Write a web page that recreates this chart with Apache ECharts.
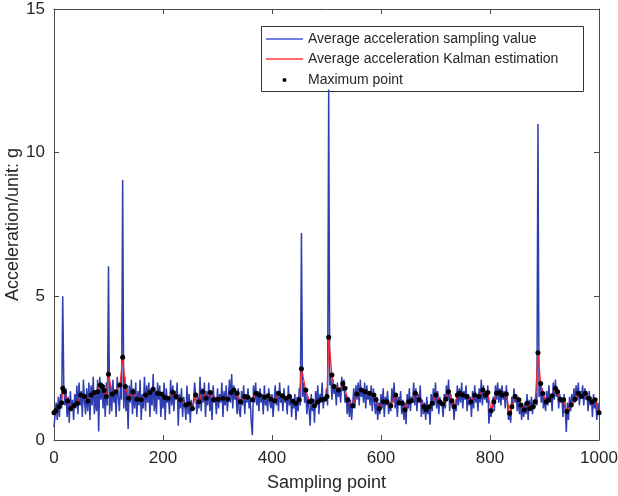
<!DOCTYPE html>
<html>
<head>
<meta charset="utf-8">
<title>Average acceleration</title>
<script src="https://cdn.jsdelivr.net/npm/echarts@6/dist/echarts.min.js"></script>
<style>
  html, body { margin: 0; padding: 0; background: #fff; }
  #chart { width: 618px; height: 496px; }
</style>
</head>
<body>
<div id="chart"></div>
<script>
// Sampled average acceleration (g), one value every SAMPLE_STEP sampling points, starting at 0
const SAMPLE_STEP = 2;
const sampledValues = [
  0.45, 0.9, 1.3, 0.7, 1.5, 0.8, 1.6, 1.1, 5.0, 1.9,
  1.2, 1.8, 0.8, 1.5, 0.6, 1.7, 1.0, 1.4, 0.7, 1.6,
  1.1, 1.9, 0.9, 2.0, 1.2, 1.7, 0.8, 2.1, 1.3, 0.9,
  1.8, 1.0, 2.0, 0.7, 1.9, 1.2, 2.2, 0.9, 1.6, 1.0,
  2.1, 0.3, 2.2, 1.4, 2.0, 1.1, 1.8, 0.8, 2.0, 1.2,
  6.05, 0.9, 1.9, 1.0, 2.1, 1.3, 1.7, 0.8, 2.2, 1.5,
  1.0, 2.0, 1.4, 9.05, 1.1, 2.2, 1.0, 1.8, 0.38, 1.9,
  1.3, 2.1, 0.9, 1.8, 1.1, 2.0, 0.8, 1.7, 1.2, 2.1,
  0.7, 1.6, 1.1, 2.2, 1.0, 1.9, 1.3, 2.0, 0.8, 1.8,
  1.2, 2.3, 1.0, 1.7, 0.9, 2.0, 1.4, 1.9, 0.8, 1.6,
  1.1, 2.0, 0.7, 1.8, 1.3, 1.5, 0.9, 2.1, 1.2, 1.9,
  1.0, 1.7, 1.4, 2.0, 0.5, 1.6, 1.1, 1.8, 0.8, 1.5,
  1.2, 0.7, 1.9, 0.9, 1.6, 0.6, 1.4, 1.0, 1.3, 2.0,
  1.6, 0.9, 1.5, 1.1, 2.2, 1.0, 1.8, 1.3, 2.0, 0.8,
  1.7, 1.2, 2.0, 1.0, 1.6, 0.7, 1.9, 1.3, 1.5, 0.9,
  1.8, 1.1, 1.6, 1.3, 2.0, 0.8, 1.7, 1.2, 1.9, 1.0,
  1.5, 2.1, 1.3, 2.3, 1.1, 1.9, 1.4, 1.6, 0.9, 1.8,
  1.0, 0.8, 1.7, 1.2, 1.9, 0.9, 1.6, 1.3, 1.8, 1.1,
  1.4, 0.6, 0.17, 1.9, 1.3, 2.0, 1.2, 1.7, 1.0, 1.8,
  1.3, 1.6, 0.9, 1.9, 1.2, 1.5, 1.0, 1.8, 1.3, 1.1,
  1.6, 0.8, 1.4, 1.9, 1.2, 1.7, 1.0, 2.0, 1.3, 1.6,
  1.0, 1.8, 1.3, 1.5, 0.9, 1.9, 1.2, 1.6, 0.8, 1.4,
  1.1, 1.6, 0.7, 1.5, 1.0, 1.8, 1.2, 7.2, 1.5, 2.0,
  1.3, 1.7, 0.9, 1.5, 1.1, 0.5, 1.6, 1.0, 1.4, 0.6,
  1.7, 1.2, 1.9, 0.9, 1.6, 1.3, 2.0, 1.1, 1.5, 1.4,
  1.8, 1.2, 12.2, 1.9, 2.2, 1.4, 2.1, 1.6, 1.9, 1.2,
  2.0, 1.5, 1.8, 1.3, 2.2, 1.7, 2.1, 1.3, 1.6, 0.9,
  1.5, 0.8, 1.4, 0.7, 1.2, 1.8, 1.1, 1.9, 1.4, 2.0,
  1.2, 2.1, 1.5, 1.8, 1.3, 2.0, 1.1, 1.9, 1.4, 1.7,
  1.2, 1.9, 1.0, 1.8, 1.3, 0.9, 1.5, 0.7, 1.3, 0.9,
  1.6, 1.1, 1.8, 0.8, 1.5, 1.2, 1.7, 0.9, 1.3, 1.0,
  1.8, 1.3, 2.0, 1.1, 1.6, 0.8, 1.5, 1.2, 1.7, 0.9,
  1.4, 0.7, 1.3, 0.55, 1.6, 1.1, 1.8, 1.0, 1.5, 1.3,
  2.0, 1.2, 1.8, 1.0, 1.6, 1.3, 1.9, 0.8, 1.4, 0.9,
  1.3, 0.7, 1.5, 0.9, 1.2, 0.53, 1.6, 1.0, 1.8, 1.2,
  2.0, 1.1, 1.7, 0.9, 1.5, 1.2, 1.3, 0.8, 1.6, 1.1,
  1.9, 1.4, 2.1, 1.0, 1.6, 1.2, 1.4, 0.7, 1.3, 1.0,
  1.9, 1.2, 1.8, 1.3, 2.0, 1.1, 1.7, 1.4, 1.9, 1.0,
  1.6, 1.2, 1.5, 0.8, 1.7, 1.1, 1.9, 1.3, 1.6, 1.0,
  1.8, 1.3, 2.1, 1.2, 1.9, 1.4, 1.7, 1.3, 1.9, 0.57,
  1.1, 0.8, 1.2, 1.5, 1.0, 1.9, 1.4, 2.0, 1.3, 1.8,
  1.2, 1.9, 1.4, 1.7, 1.1, 1.9, 1.3, 0.7, 1.0, 0.6,
  1.5, 1.1, 1.8, 1.3, 1.6, 1.0, 1.5, 0.9, 1.3, 0.7,
  1.2, 0.8, 1.3, 0.9, 1.6, 0.7, 1.4, 1.0, 1.5, 0.9,
  1.4, 1.1, 1.6, 1.2, 11.0, 1.5, 2.0, 1.3, 1.8, 1.1,
  1.5, 1.0, 1.7, 1.2, 1.9, 1.3, 1.6, 1.0, 2.0, 1.4,
  2.1, 1.5, 1.8, 1.1, 1.6, 1.3, 1.4, 0.8, 1.6, 1.1,
  0.28, 1.3, 0.7, 1.5, 1.0, 1.6, 1.2, 1.8, 1.3, 1.9,
  1.4, 2.0, 1.2, 1.7, 1.5, 1.9, 1.2, 1.8, 1.4, 1.6,
  1.0, 1.7, 1.2, 1.5, 0.8, 1.6, 1.1, 1.4, 0.7, 1.3,
  0.9
];

// Kalman estimate of the average acceleration (sampling point, g)
const kalmanX = [
  0, 3, 9, 14, 16, 19, 25, 31, 37, 43, 49, 56, 62, 68, 74, 80, 85, 89, 92, 96,
  100, 107, 113, 121, 126, 131, 137, 145, 152, 160, 168, 176, 182, 190, 197,
  203, 209, 218, 224, 232, 242, 248, 254, 260, 266, 273, 279, 287, 293,
  301, 310, 319, 325, 330, 336, 342, 350, 356, 364, 371, 377, 386, 393, 398,
  405, 412, 419, 426, 432, 438, 444, 450, 454, 462, 469, 473, 478, 484, 490, 497,
  501, 504, 510, 514, 522, 530, 534, 539, 548, 556, 564, 571, 579, 587, 591, 597,
  604, 611, 618, 627, 633, 639, 644, 651, 656, 663, 670, 679, 683, 688, 694,
  701, 708, 713, 719, 724, 730, 734, 740, 744, 750, 758, 765, 772, 780, 787, 792, 796,
  802, 807, 812, 818, 822, 830, 836, 840, 846, 853, 857, 863, 868, 873, 879, 883, 888, 893, 897,
  903, 908, 914, 920, 924, 929, 935, 941, 949, 956, 962, 968, 975, 981, 987, 993, 1000
];
const kalmanY = [
  0.95, 1.02, 1.16, 1.30, 1.80, 1.68, 1.36, 1.10, 1.20, 1.28, 1.57, 1.51, 1.36, 1.57, 1.65, 1.68, 1.91, 1.86, 1.72, 1.51,
  2.29, 1.60, 1.68, 1.91, 2.88, 1.86, 1.45, 1.68, 1.42, 1.40, 1.57, 1.65, 1.77, 1.63, 1.60,
  1.49, 1.45, 1.66, 1.51, 1.40, 1.22, 1.26, 1.10, 1.57, 1.33, 1.68, 1.45, 1.65, 1.40,
  1.42, 1.45, 1.42, 1.65, 1.74, 1.63, 1.33, 1.51, 1.49, 1.40, 1.63, 1.57, 1.49, 1.54, 1.42,
  1.37, 1.63, 1.54, 1.45, 1.51, 1.36, 1.28, 1.40, 2.48, 1.74, 1.33, 1.37, 1.19, 1.33, 1.40, 1.42,
  1.51, 3.58, 2.26, 1.86, 1.74, 1.97, 1.80, 1.40, 1.19, 1.60, 1.74, 1.68, 1.63, 1.57, 1.40, 1.10,
  1.33, 1.33, 1.19, 1.57, 1.30, 1.28, 1.05, 1.33, 1.37, 1.63, 1.40, 1.16, 1.05, 1.16, 1.28,
  1.57, 1.33, 1.25, 1.42, 1.68, 1.37, 1.16, 1.57, 1.63, 1.57, 1.51, 1.33, 1.57, 1.51, 1.74, 1.57, 1.65,
  1.02, 1.33, 1.63, 1.65, 1.57, 1.60, 0.93, 1.16, 1.51, 1.40, 1.22, 1.05, 1.28, 1.10, 1.16, 1.33, 3.04, 1.97, 1.62,
  1.33, 1.40, 1.54, 1.80, 1.68, 1.42, 1.40, 0.99, 1.22, 1.42, 1.63, 1.51, 1.63, 1.45, 1.33, 1.40, 0.95
];

// Axis ticks
const xTicks = [0, 200, 400, 600, 800, 1000];
const yTicks = [0, 5, 10, 15];

const seriesNames = [
  'Average acceleration sampling value',
  'Average acceleration Kalman estimation',
  'Maximum point'
];

const sampledData = sampledValues.map((v, i) => [i * SAMPLE_STEP, v]);
const kalmanData = kalmanX.map((x, i) => [x, kalmanY[i]]);

const FONT = '"Liberation Sans", Arial, Helvetica, sans-serif';
const AXIS_COLOR = '#4a4a4a';
const TEXT_COLOR = '#262626';
const BLUE = '#2e3db0';
const RED = '#ff2424';
const LEGEND_BLUE = '#4656d0';
const LEGEND_RED = '#ff3a3a';

// Legend marker: a small dot centred in a wide, empty box
const DOT_ICON = 'path://M0,0M37,5M16.5,2.5a2,2 0 1,0 4,0a2,2 0 1,0 -4,0Z';

const chart = echarts.init(document.getElementById('chart'), null, { renderer: 'canvas' });

const axisCommon = {
  type: 'value',
  axisLine: { show: true, onZero: false, lineStyle: { color: AXIS_COLOR, width: 1 } },
  axisTick: { show: true, inside: true, length: 5, lineStyle: { color: AXIS_COLOR, width: 1 } },
  splitLine: { show: false },
  minorTick: { show: false }
};

const plainNumber = v => String(v);

// Short line samples drawn in front of the two line-series legend entries
const legendSample = (y, color) => ({
  type: 'line', z: 110, silent: true,
  shape: { x1: 266, y1: y, x2: 303, y2: y },
  style: { stroke: color, lineWidth: 1.6 }
});

chart.setOption({
  animation: false,
  backgroundColor: '#ffffff',
  textStyle: { fontFamily: FONT },
  grid: { left: 54, right: 19, top: 9, bottom: 56, containLabel: false, outerBoundsMode: 'none' },
  xAxis: [
    Object.assign({}, axisCommon, {
      position: 'bottom',
      min: xTicks[0], max: xTicks[xTicks.length - 1], interval: xTicks[1] - xTicks[0],
      axisLabel: { show: true, margin: 10, fontSize: 17, color: TEXT_COLOR, fontFamily: FONT, formatter: plainNumber },
      name: 'Sampling point',
      nameLocation: 'middle',
      nameGap: 34,
      nameMoveOverlap: false,
      nameTextStyle: { fontSize: 18, color: TEXT_COLOR, fontFamily: FONT }
    }),
    Object.assign({}, axisCommon, {
      position: 'top',
      min: xTicks[0], max: xTicks[xTicks.length - 1], interval: xTicks[1] - xTicks[0],
      axisLabel: { show: false }
    })
  ],
  yAxis: [
    Object.assign({}, axisCommon, {
      position: 'left',
      min: yTicks[0], max: yTicks[yTicks.length - 1], interval: yTicks[1] - yTicks[0],
      axisLabel: { show: true, margin: 9, fontSize: 17, color: TEXT_COLOR, fontFamily: FONT, formatter: plainNumber },
      name: 'Acceleration/unit: g',
      nameLocation: 'middle',
      nameGap: 32,
      nameMoveOverlap: false,
      nameTextStyle: { fontSize: 18, color: TEXT_COLOR, fontFamily: FONT }
    }),
    Object.assign({}, axisCommon, {
      position: 'right',
      min: yTicks[0], max: yTicks[yTicks.length - 1], interval: yTicks[1] - yTicks[0],
      axisLabel: { show: false }
    })
  ],
  legend: [
    {
      orient: 'vertical',
      left: 266, top: 32,
      padding: 0,
      icon: 'none',
      itemWidth: 37, itemHeight: 14, itemGap: 6.5,
      textStyle: { fontSize: 14, lineHeight: 14, color: TEXT_COLOR, fontFamily: FONT },
      data: [seriesNames[0], seriesNames[1]]
    },
    {
      orient: 'vertical',
      left: 266, top: 73,
      padding: 0,
      icon: DOT_ICON,
      itemWidth: 37, itemHeight: 5,
      itemStyle: { borderWidth: 0 },
      textStyle: { fontSize: 14, lineHeight: 14, color: TEXT_COLOR, fontFamily: FONT },
      data: [{ name: seriesNames[2], itemStyle: { color: '#000000', borderWidth: 0 } }]
    }
  ],
  graphic: [
    {
      type: 'rect',
      left: 261, top: 26, z: 1,
      shape: { width: 322, height: 65 },
      style: { fill: 'rgba(255,255,255,0)', stroke: '#333', lineWidth: 1 }
    },
    legendSample(39, LEGEND_BLUE),
    legendSample(59, LEGEND_RED)
  ],
  series: [
    {
      name: seriesNames[0],
      type: 'line',
      data: sampledData,
      symbol: 'none',
      lineStyle: { color: BLUE, width: 1.5 },
      itemStyle: { color: BLUE, borderColor: BLUE },
      z: 2
    },
    {
      name: seriesNames[1],
      type: 'line',
      data: kalmanData,
      symbol: 'none',
      lineStyle: { color: RED, width: 1.2 },
      itemStyle: { color: RED, borderColor: RED },
      z: 3
    },
    {
      name: seriesNames[2],
      type: 'scatter',
      data: kalmanData,
      symbol: 'circle',
      symbolSize: 5,
      itemStyle: { color: '#000000', opacity: 1 },
      z: 4
    }
  ]
});
</script>
</body>
</html>
